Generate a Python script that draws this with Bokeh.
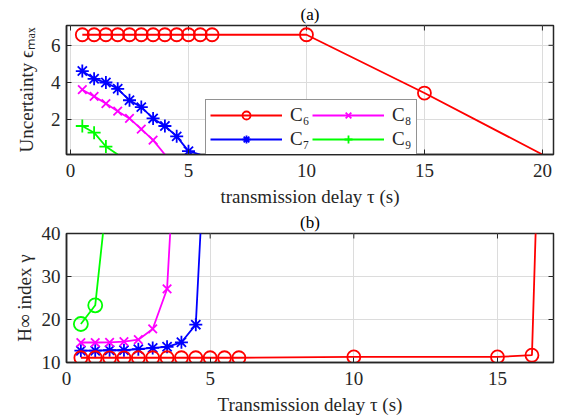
from math import pi
from bokeh.plotting import figure
from bokeh.layouts import column
from bokeh.models import Range1d, LinearAxis, FixedTicker, Legend, LegendItem, Grid
from bokeh.embed import file_html
from bokeh.resources import INLINE

# ---------------- data (a) ----------------
tau_a6 = [0.5, 1.0, 1.5, 2.0, 2.5, 3.0, 3.5, 4.0, 4.5, 5.0, 5.5, 6.0, 10, 15, 20]
eps_a6 = [6.57, 6.57, 6.57, 6.57, 6.57, 6.57, 6.57, 6.57, 6.57, 6.57, 6.57, 6.57, 6.57, 3.42, 0.1]
tau_a7 = [0.5, 1.0, 1.5, 2.0, 2.5, 3.0, 3.5, 4.0, 4.5, 5.0, 5.5]
eps_a7 = [4.61, 4.19, 3.99, 3.65, 3.03, 2.66, 2.05, 1.64, 1.08, 0.28, 0.1]
tau_a8 = [0.5, 1.0, 1.5, 2.0, 2.5, 3.0, 3.5, 4.0]
eps_a8 = [3.60, 3.24, 2.85, 2.44, 2.05, 1.47, 0.88, 0.1]
tau_a9 = [0.5, 1.0, 1.5, 2.0]
eps_a9 = [1.64, 1.28, 0.53, 0.1]
n_mark_a = {"C6": 14, "C7": 10, "C8": 7, "C9": 3}

# ---------------- data (b) ----------------
tau_b6 = [0.5, 1.0, 1.5, 2.0, 2.5, 3.0, 3.5, 4.0, 4.5, 5.0, 5.5, 6.0, 10, 15, 16.2, 16.35]
gam_b6 = [11.1, 11.1, 11.1, 11.1, 11.1, 11.1, 11.1, 11.1, 11.1, 11.1, 11.1, 11.1, 11.3, 11.3, 11.7, 45]
tau_b7 = [0.5, 1.0, 1.5, 2.0, 2.5, 3.0, 3.5, 4.0, 4.5, 4.7]
gam_b7 = [12.75, 12.75, 12.85, 12.85, 13.1, 13.4, 13.65, 14.7, 18.8, 45]
tau_b8 = [0.5, 1.0, 1.5, 2.0, 2.5, 3.0, 3.5, 3.65]
gam_b8 = [14.65, 14.65, 14.7, 14.85, 15.3, 17.8, 27.1, 45]
tau_b9 = [0.5, 1.0, 1.35]
gam_b9 = [18.95, 23.3, 45]
n_mark_b = {"C6": 15, "C7": 9, "C8": 7, "C9": 2}

xticks_a = [0, 5, 10, 15, 20]
yticks_a = [2, 4, 6]
xticks_b = [0, 5, 10, 15]
yticks_b = [10, 20, 30, 40]

labels = {"C6": "C\u2086", "C7": "C\u2087", "C8": "C\u2088", "C9": "C\u2089"}
colors = {"C6": "#ff0000", "C7": "#0000ff", "C8": "#ff00ff", "C9": "#00ff00"}

FONT = "Liberation Serif"
DARK = "#262626"
W = 562
FS = "19px"


def make_fig(h, top, bottom, xr, yr, xt, yt, title, xlabel, ylabel, ylab_standoff, title_standoff):
    p = figure(width=W, height=h, output_backend="svg", toolbar_location=None,
               x_range=Range1d(*xr), y_range=Range1d(*yr),
               x_axis_type=None, y_axis_type=None,
               min_border_left=66, min_border_right=9,
               min_border_top=top, min_border_bottom=bottom,
               background_fill_color="white", border_fill_color="white")
    p.outline_line_color = DARK
    p.outline_line_width = 1.5
    p.outline_line_alpha = 1.0
    for loc, ticks, lab in (("below", xt, xlabel), ("left", yt, ylabel)):
        ax = LinearAxis(ticker=FixedTicker(ticks=ticks))
        ax.major_tick_in = 5
        ax.major_tick_out = 0
        ax.minor_tick_line_color = None
        ax.major_tick_line_color = DARK
        ax.axis_line_color = DARK
        ax.axis_line_width = 1.5
        ax.axis_label = lab
        ax.axis_label_text_font = FONT
        ax.axis_label_text_font_style = "normal"
        ax.axis_label_text_font_size = FS
        ax.axis_label_text_color = DARK
        ax.major_label_text_font = FONT
        ax.major_label_text_font_size = FS
        ax.major_label_text_color = DARK
        if loc == "below":
            ax.major_label_standoff = 9
            ax.axis_label_standoff = 6
        else:
            ax.major_label_standoff = 6
            ax.axis_label_standoff = ylab_standoff
        p.add_layout(ax, loc)
    p.add_layout(Grid(dimension=0, ticker=FixedTicker(ticks=xt), grid_line_color="#dcdcdc", grid_line_width=1))
    p.add_layout(Grid(dimension=1, ticker=FixedTicker(ticks=yt), grid_line_color="#dcdcdc", grid_line_width=1))
    # mirrored inward ticks on the top and right edges (half of each dash is clipped away)
    p.scatter(xt, [yr[1]] * len(xt), marker="dash", angle=pi / 2, size=10,
              line_color=DARK, line_width=1)
    p.scatter([xr[1]] * len(yt), yt, marker="dash", size=10,
              line_color=DARK, line_width=1)
    p.title.text = title
    p.title.align = "center"
    p.title.text_font = FONT
    p.title.text_font_style = "normal"
    p.title.text_font_size = "17px"
    p.title.text_color = "black"
    p.title.standoff = title_standoff
    return p


# ---------- (a) ----------
p1 = make_fig(209, 23, 55, (-0.17, 20.47), (0.1, 7.07), xticks_a, yticks_a,
              "(a)", "transmission delay \u03c4 (s)", "Uncertainty \u03f5\u2098\u2090\u2093", 11, 4)

series_a = [("C6", tau_a6, eps_a6, "circle", 13),
            ("C7", tau_a7, eps_a7, "asterisk", 13),
            ("C8", tau_a8, eps_a8, "x", 12),
            ("C9", tau_a9, eps_a9, "cross", 13)]
items = []
for key, xs, ys, mk, sz in series_a:
    c = colors[key]
    n = n_mark_a[key]
    r_line = p1.line(xs, ys, line_color=c, line_width=1.8)
    r_mark = p1.scatter(xs[:n], ys[:n], marker=mk, size=sz, fill_color=None,
                        line_color=c, line_width=1.8)
    items.append(LegendItem(label=labels[key], renderers=[r_line, r_mark]))

leg = Legend(items=items, location=(139, -1), orientation="vertical", nrows=2,
             glyph_width=72, glyph_height=20, label_height=20, label_standoff=8, spacing=2,
             padding=4, margin=0,
             label_text_font=FONT, label_text_font_size=FS, label_text_color=DARK,
             label_text_line_height=0.9,
             border_line_color=DARK, border_line_width=1.5,
             background_fill_color="white", background_fill_alpha=1.0)
p1.add_layout(leg, "center")

# ---------- (b) ----------
p2 = make_fig(210, 23, 57, (0, 16.95), (10, 40), xticks_b, yticks_b,
              "(b)", "Transmission delay \u03c4 (s)", "H\u221e index \u03b3", 4, 3)

series_b = [("C7", tau_b7, gam_b7, "asterisk", 13),
            ("C8", tau_b8, gam_b8, "x", 12),
            ("C9", tau_b9, gam_b9, "circle", 14),
            ("C6", tau_b6, gam_b6, "circle", 13)]
for key, xs, ys, mk, sz in series_b:
    c = colors[key]
    n = n_mark_b[key]
    p2.line(xs, ys, line_color=c, line_width=1.8)
    p2.scatter(xs[:n], ys[:n], marker=mk, size=sz, fill_color=None,
               line_color=c, line_width=1.8)

layout = column(p1, p2, spacing=0)
open("out.html", "w").write(file_html(layout, INLINE))
